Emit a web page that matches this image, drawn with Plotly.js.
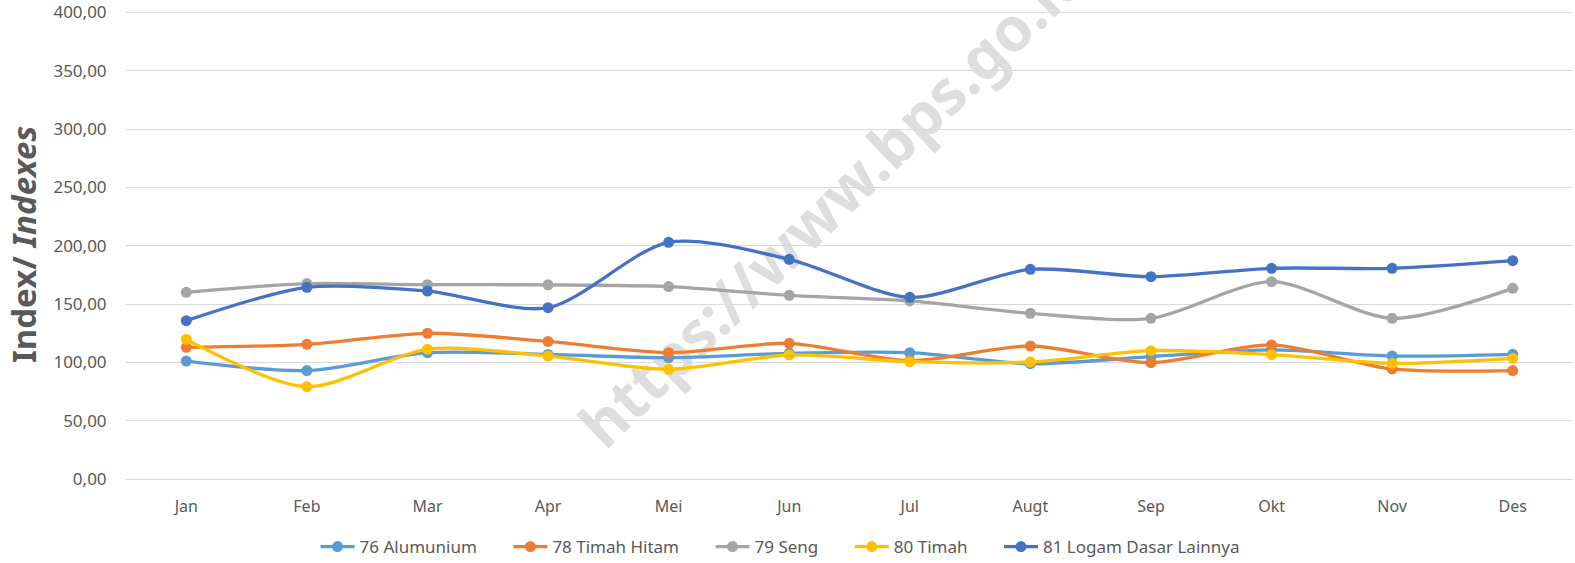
<!DOCTYPE html>
<html>
<head>
<meta charset="utf-8">
<script src="https://cdn.plot.ly/plotly-3.0.1.min.js"></script>
<style>html,body{margin:0;padding:0;background:#fff;}#chart{width:1575px;height:563px;}</style>
</head>
<body>
<div id="chart"></div>
<script>
const months = ["Jan","Feb","Mar","Apr","Mei","Jun","Jul","Augt","Sep","Okt","Nov","Des"];
const seriesNames = ["76 Alumunium","78 Timah Hitam","79 Seng","80 Timah","81 Logam Dasar Lainnya"];
const alumunium = [101.1, 92.9, 108.3, 106.8, 104.0, 107.7, 108.3, 98.8, 104.9, 110.6, 105.4, 106.9];
const timahHitam = [112.9, 115.4, 124.9, 117.9, 108.3, 116.3, 101.5, 114.0, 99.7, 114.9, 94.3, 92.9];
const seng = [160.0, 167.5, 166.6, 166.4, 164.9, 157.4, 152.6, 142.0, 137.7, 169.1, 137.7, 163.4];
const timah = [119.7, 79.1, 111.2, 105.4, 94.0, 106.3, 100.6, 100.3, 110.0, 106.6, 99.1, 103.4];
const logamLain = [135.7, 164.3, 161.1, 146.8, 202.9, 188.3, 155.7, 179.7, 173.4, 180.6, 180.6, 187.1];
const yTicks = [0, 50, 100, 150, 200, 250, 300, 350, 400];
const colors = ["#5B9BD5", "#ED7D31", "#A5A5A5", "#FFC000", "#4472C4"];
const allSeries = [alumunium, timahHitam, seng, timah, logamLain];

const pad = "\u00a0\u00a0\u00a0\u00a0\u00a0\u00a0";
const traces = allSeries.map((vals, i) => ({
  type: "scatter",
  mode: "lines+markers",
  name: seriesNames[i] + (i < allSeries.length - 1 ? pad : ""),
  x: months,
  y: vals,
  line: {color: colors[i], width: 3.3, shape: "spline", smoothing: 0.8},
  marker: {color: colors[i], size: 11}
}));

const layout = {
  width: 1575,
  height: 563,
  margin: {l: 126, r: 2, t: 9.7, b: 84, autoexpand: false},
  paper_bgcolor: "#ffffff",
  plot_bgcolor: "#ffffff",
  separators: ",.",
  font: {family: "Noto Sans, sans-serif", color: "#595959", size: 17},
  showlegend: true,
  legend: {
    orientation: "h",
    x: 0.131, xanchor: "left",
    y: -0.145, yanchor: "middle",
    font: {size: 17, color: "#595959"},
    itemwidth: 34,
    tracegroupgap: 0
  },
  xaxis: {
    type: "category",
    range: [-0.5, 11.5],
    tickfont: {size: 16, color: "#595959"},
    showgrid: false,
    showline: false,
    ticks: "outside",
    ticklen: 13,
    tickcolor: "rgba(0,0,0,0)"
  },
  yaxis: {
    range: [0, 402],
    tickvals: yTicks,
    tickformat: ".2f",
    tickfont: {size: 17, color: "#595959"},
    ticklabeloverflow: "allow",
    ticks: "outside",
    ticklen: 15,
    tickcolor: "rgba(0,0,0,0)",
    gridcolor: "#d9d9d9",
    gridwidth: 1,
    zeroline: true,
    zerolinecolor: "#d9d9d9",
    zerolinewidth: 1,
    showline: false,
    automargin: false,
    title: {
      text: "<b>Index/ <i>Indexes</i></b>",
      font: {size: 33, color: "#595959"},
      standoff: 6
    }
  },
  shapes: [{
    type: "rect",
    xref: "paper", yref: "paper",
    x0: 0.475, x1: 0.505, y0: 0.575, y1: 0.605,
    line: {width: 0},
    fillcolor: "rgba(0,0,0,0)",
    layer: "below",
    label: {
      text: "https://www.bps.go.id",
      textangle: -44,
      textposition: "middle center",
      font: {size: 61, color: "rgba(190,190,190,0.5)", family: "Noto Sans, sans-serif", weight: "bold"}
    }
  }]
};

Plotly.newPlot("chart", traces, layout, {displayModeBar: false, staticPlot: true});
</script>
</body>
</html>
